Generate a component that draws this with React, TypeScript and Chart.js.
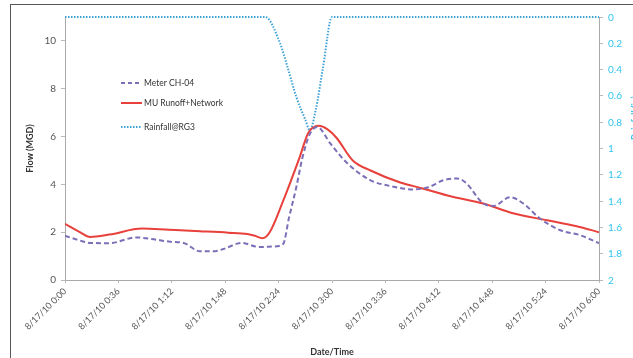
import React, { useEffect, useRef } from "react";
import { Chart, registerables } from "chart.js";

Chart.register(...registerables);

// minutes after 8/17/10 0:00
const MU_TIMES = [0, 10, 17, 30, 52, 70, 91, 110, 123, 128, 133, 138, 147, 158, 164, 171, 177, 183, 194, 206, 226, 241, 260, 282, 302, 325, 345, 360];
const MU_FLOW = [2.35, 2.0, 1.8, 1.9, 2.15, 2.1, 2.04, 1.98, 1.92, 1.85, 1.75, 2.0, 3.3, 5.1, 6.15, 6.45, 6.3, 5.95, 5.0, 4.58, 4.08, 3.83, 3.5, 3.2, 2.79, 2.5, 2.25, 2.0];

const METER_TIMES = [0, 10, 17, 30, 48, 60, 71, 80, 91, 100, 107, 119, 131, 140, 147, 151, 156, 160, 165, 170, 179, 190, 206, 217, 235, 245, 255, 264, 270, 282, 289, 300, 309, 320, 334, 347, 360];
const METER_FLOW = [1.85, 1.65, 1.55, 1.54, 1.78, 1.7, 1.6, 1.55, 1.2, 1.2, 1.3, 1.55, 1.38, 1.4, 1.5, 2.6, 3.9, 5.1, 6.1, 6.4, 5.7, 4.9, 4.17, 3.96, 3.79, 3.88, 4.17, 4.25, 4.08, 3.2, 3.1, 3.46, 3.2, 2.58, 2.08, 1.88, 1.54];

const RAIN_TIMES = [0, 135, 145, 150, 156, 162, 165, 169, 174, 180, 360];
const RAIN_IN = [0, 0, 0.2, 0.38, 0.61, 0.78, 0.86, 0.71, 0.38, 0, 0];

const RAIN_TICKS = [0, 0.2, 0.4, 0.6, 0.8, 1, 1.2, 1.4, 1.6, 1.8, 2];

const X_TICK_PREFIX = "8/17/10 ";
const SERIES_NAMES = ["Meter CH-04", "MU Runoff+Network", "Rainfall@RG3"];

const PURPLE = "#7c6fb8";
const RED = "#e8403a";
const BLUE = "#3fa2d6";
const CYAN = "#33c4ee";
const FONT = "Lato, 'Open Sans', sans-serif";

function fmtTime(m: number) {
  const h = Math.floor(m / 60);
  const mm = Math.round(m % 60);
  return X_TICK_PREFIX + h + ":" + (mm < 10 ? "0" : "") + mm;
}

const overlay = {
  id: "overlay",
  afterDraw(chart: any) {
    const ctx = chart.ctx as CanvasRenderingContext2D;
    ctx.save();
    // right axis tick labels
    const s = chart.scales.y1;
    ctx.font = "10px " + FONT;
    ctx.fillStyle = CYAN;
    ctx.textAlign = "left";
    ctx.textBaseline = "alphabetic";
    RAIN_TICKS.forEach((v) => {
      const y = s.getPixelForValue(v);
      ctx.fillText(String(v), s.left + 9, y + 3.5);
    });
    // legend
    const items = [
      { name: SERIES_NAMES[0], color: PURPLE, dash: [4, 3], y: 78 },
      { name: SERIES_NAMES[1], color: RED, dash: [], y: 98 },
      { name: SERIES_NAMES[2], color: BLUE, dash: [1.5, 1.5], y: 122 },
    ];
    ctx.font = "8.5px " + FONT;
    ctx.textBaseline = "middle";
    for (const it of items) {
      ctx.strokeStyle = it.color;
      ctx.lineWidth = 2;
      ctx.setLineDash(it.dash);
      ctx.beginPath();
      ctx.moveTo(110, it.y);
      ctx.lineTo(131, it.y);
      ctx.stroke();
      ctx.setLineDash([]);
      ctx.fillStyle = "#333";
      ctx.fillText(it.name, 133, it.y);
    }
    // right axis title
    ctx.translate(624, 113);
    ctx.rotate(-Math.PI / 2);
    ctx.font = "bold 9px " + FONT;
    ctx.fillStyle = CYAN;
    ctx.textAlign = "center";
    ctx.fillText("Rainfall (in)", 0, 0);
    ctx.restore();
  },
};

export default function App() {
  const ref = useRef<HTMLCanvasElement>(null);
  useEffect(() => {
    if (!ref.current) return;
    const chart = new Chart(ref.current, {
      type: "line",
      data: {
        datasets: [
          {
            label: SERIES_NAMES[0],
            data: METER_TIMES.map((t, i) => ({ x: t, y: METER_FLOW[i] })),
            borderColor: PURPLE,
            borderWidth: 2,
            borderDash: [5, 3],
            pointRadius: 0,
            cubicInterpolationMode: "monotone",
            yAxisID: "y",
          },
          {
            label: SERIES_NAMES[1],
            data: MU_TIMES.map((t, i) => ({ x: t, y: MU_FLOW[i] })),
            borderColor: RED,
            borderWidth: 2,
            pointRadius: 0,
            cubicInterpolationMode: "monotone",
            yAxisID: "y",
          },
          {
            label: SERIES_NAMES[2],
            data: RAIN_TIMES.map((t, i) => ({ x: t, y: RAIN_IN[i] })),
            borderColor: BLUE,
            borderWidth: 2,
            borderDash: [1.5, 1.5],
            pointRadius: 0,
            cubicInterpolationMode: "monotone",
            yAxisID: "y1",
            clip: 4,
          } as any,
        ],
      },
      options: {
        animation: false,
        responsive: false,
        maintainAspectRatio: false,
        layout: { padding: { left: 14, top: 12, right: 0, bottom: 0 } },
        plugins: { legend: { display: false }, tooltip: { enabled: false } },
        scales: {
          x: {
            type: "linear",
            min: 0,
            max: 360,
            afterFit(s: any) {
              s.height = 77;
            },
            ticks: {
              stepSize: 36,
              minRotation: 45,
              maxRotation: 45,
              autoSkip: false,
              color: "#555",
              font: { size: 9, family: FONT },
              callback: (v: any) => fmtTime(Number(v)),
            },
            grid: { drawOnChartArea: false, drawTicks: true, tickLength: 3, color: "#bbb" },
            border: { display: true, color: "#aaa" },
            title: {
              display: true,
              text: "Date/Time",
              color: "#333",
              font: { size: 9, weight: "bold", family: FONT },
              padding: 0,
            },
          },
          y: {
            position: "left",
            min: 0,
            max: 11,
            afterFit(s: any) {
              s.width = 40;
            },
            ticks: {
              stepSize: 2,
              includeBounds: false,
              color: "#555",
              padding: 5,
              font: { size: 10, family: FONT },
            },
            grid: { drawOnChartArea: false, drawTicks: true, tickLength: 4, color: "#bbb" },
            border: { display: true, color: "#aaa" },
            title: {
              display: true,
              text: "Flow (MGD)",
              color: "#333",
              font: { size: 9, weight: "bold", family: FONT },
              padding: 0,
            },
          },
          y1: {
            position: "right",
            min: 0,
            max: 2,
            reverse: true,
            afterBuildTicks(s: any) {
              s.ticks = RAIN_TICKS.map((v) => ({ value: v }));
            },
            afterFit(s: any) {
              s.width = 40;
            },
            ticks: { display: false },
            grid: { drawOnChartArea: false, drawTicks: true, tickLength: 4, color: "#bbb" },
            border: { display: true, color: "#aaa" },
          },
        },
      },
      plugins: [overlay],
    } as any);
    return () => chart.destroy();
  }, []);

  return (
    <div style={{ position: "fixed", left: 0, top: 0, width: 633, height: 358, overflow: "hidden", background: "#fff" }}>
      <div style={{ position: "absolute", left: 10, top: 4, width: 640, height: 370, border: "1px solid #555", background: "#fff" }}>
        <canvas ref={ref} width={628} height={352} style={{ display: "block", width: 628, height: 352 }} />
      </div>
    </div>
  );
}
